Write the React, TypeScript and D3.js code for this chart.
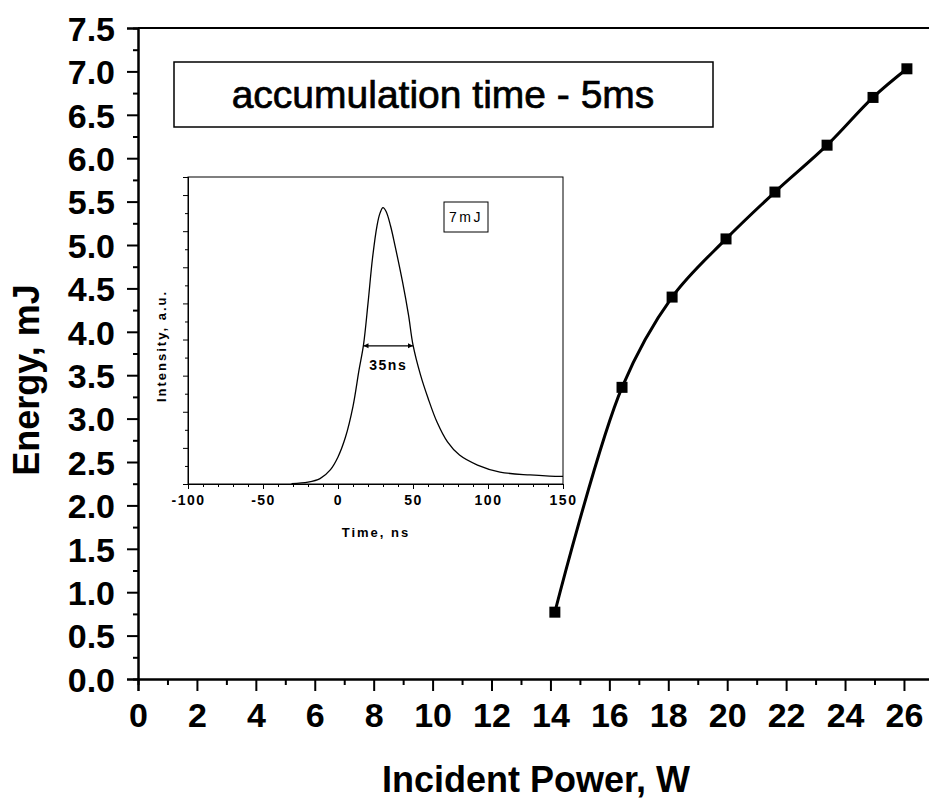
import React, { useEffect, useRef } from "react";
import * as d3 from "d3";

// main chart: energy vs incident power
const power = [14.15, 16.43, 18.13, 19.96, 21.62, 23.39, 24.95, 26.1];
const energy = [0.77, 3.36, 4.4, 5.07, 5.61, 6.15, 6.7, 7.03];
const xMajor = [0, 2, 4, 6, 8, 10, 12, 14, 16, 18, 20, 22, 24, 26];
const yMajor = [0, 0.5, 1, 1.5, 2, 2.5, 3, 3.5, 4, 4.5, 5, 5.5, 6, 6.5, 7, 7.5];

// inset: pulse shape
const pulseTime = [-31, -20, -12, -5, 0, 5, 10, 14, 17, 20, 23, 26, 28, 30, 32, 35, 38, 43, 47, 50, 55, 60, 66, 73, 81, 93, 108, 128, 141, 150];
const pulseIntensity = [0.02, 0.1, 0.3, 0.8, 1.5, 2.6, 4.3, 6.3, 7.7, 10.0, 12.5, 14.3, 15.0, 15.3, 15.1, 14.3, 13.2, 11.2, 9.36, 7.7, 6.04, 4.76, 3.43, 2.33, 1.6, 1.05, 0.66, 0.5, 0.44, 0.42];
const insetXMajor = [-100, -50, 0, 50, 100, 150];
const fwhm = [17, 50];
const fwhmLevel = 7.65;

const App = () => {
  const svgRef = useRef(null);

  useEffect(() => {
    const svg = d3.select(svgRef.current);
    svg.selectAll("*").remove();

    const font = "'Liberation Sans', Arial, sans-serif";
    const x = d3.scaleLinear().domain([0, 27]).range([138, 138 + 27 * 29.46]);
    const y = d3.scaleLinear().domain([0, 7.5]).range([679, 28]);

    // top border (right border falls outside the picture)
    svg.append("line")
      .attr("x1", x(0)).attr("x2", x(27)).attr("y1", y(7.5)).attr("y2", y(7.5))
      .attr("stroke", "#000").attr("stroke-width", 2);

    const minorX = d3.range(0, 27.01, 1).filter(v => v % 2 !== 0);
    const minorY = d3.range(0.25, 7.5, 0.5);

    const gx = svg.append("g").attr("transform", `translate(0,${y(0)})`);
    gx.call(d3.axisBottom(x).tickValues(xMajor).tickSize(12).tickPadding(12).tickFormat(d3.format("d")));
    gx.append("g").call(d3.axisBottom(x).tickValues(minorX).tickSize(6).tickFormat(() => ""));

    const gy = svg.append("g").attr("transform", `translate(${x(0)},0)`);
    gy.call(d3.axisLeft(y).tickValues(yMajor).tickSize(11).tickPadding(12).tickFormat(d3.format(".1f")));
    gy.append("g").call(d3.axisLeft(y).tickValues(minorY).tickSize(5).tickFormat(() => ""));

    svg.selectAll(".domain").attr("stroke-width", 2);
    svg.selectAll(".tick line").attr("stroke-width", 2);
    gx.selectAll("text").attr("font-family", font).attr("font-weight", "bold").attr("font-size", 34).attr("fill", "#000");
    gy.selectAll("text").attr("font-family", font).attr("font-weight", "bold").attr("font-size", 34).attr("fill", "#000").attr("dy", "0.36em");

    svg.append("text")
      .attr("x", 536).attr("y", 792)
      .attr("text-anchor", "middle")
      .attr("font-family", font).attr("font-weight", "bold").attr("font-size", 36)
      .text("Incident Power, W");

    svg.append("text")
      .attr("transform", "translate(39,380) rotate(-90)")
      .attr("text-anchor", "middle")
      .attr("font-family", font).attr("font-weight", "bold").attr("font-size", 36)
      .text("Energy, mJ");

    // annotation box
    svg.append("rect")
      .attr("x", 174).attr("y", 62).attr("width", 539).attr("height", 65)
      .attr("fill", "none").attr("stroke", "#000").attr("stroke-width", 1.5);
    svg.append("text")
      .attr("x", 443).attr("y", 108)
      .attr("text-anchor", "middle")
      .attr("font-family", font).attr("font-size", 39)
      .attr("stroke", "#000").attr("stroke-width", 0.7)
      .text("accumulation time - 5ms");

    // main curve + markers
    const pts = power.map((p, i) => [p, energy[i]]);
    const line = d3.line().x(d => x(d[0])).y(d => y(d[1])).curve(d3.curveCatmullRom.alpha(0.5));
    svg.append("path")
      .attr("d", line(pts))
      .attr("fill", "none").attr("stroke", "#000").attr("stroke-width", 3);
    svg.selectAll(".mk").data(pts).join("rect")
      .attr("class", "mk")
      .attr("x", d => x(d[0]) - 5.5).attr("y", d => y(d[1]) - 5.5)
      .attr("width", 11).attr("height", 11).attr("fill", "#000");

    // inset
    const ix = d3.scaleLinear().domain([-100, 150]).range([188, 563]);
    const iy = d3.scaleLinear().domain([0, 17]).range([484, 177]);
    const inset = svg.append("g");
    inset.append("rect")
      .attr("x", ix(-100)).attr("y", iy(17))
      .attr("width", ix(150) - ix(-100)).attr("height", iy(0) - iy(17))
      .attr("fill", "#fff").attr("stroke", "#000").attr("stroke-width", 1);

    const ixMinor = d3.range(-90, 150, 10).filter(v => v % 50 !== 0);
    const igx = inset.append("g").attr("transform", `translate(0,${iy(0)})`);
    igx.call(d3.axisBottom(ix).tickValues(insetXMajor).tickSize(5).tickPadding(6).tickFormat(d => String(d)));
    igx.append("g").call(d3.axisBottom(ix).tickValues(ixMinor).tickSize(3).tickFormat(() => ""));
    igx.selectAll("text")
      .attr("font-family", font).attr("font-weight", "bold").attr("font-size", 14)
      .attr("letter-spacing", 1.5).attr("fill", "#000");

    const igy = inset.append("g").attr("transform", `translate(${ix(-100)},0)`);
    igy.call(d3.axisLeft(iy).tickValues(d3.range(0, 17.01, 2)).tickSize(5).tickFormat(() => ""));
    igy.append("g").call(d3.axisLeft(iy).tickValues(d3.range(1, 17, 2)).tickSize(3).tickFormat(() => ""));
    inset.selectAll(".domain").attr("stroke-width", 1);
    inset.selectAll(".tick line").attr("stroke-width", 1);

    inset.append("path")
      .attr("d", d3.line().x((d, i) => ix(pulseTime[i])).y(d => iy(d)).curve(d3.curveCatmullRom)(pulseIntensity))
      .attr("fill", "none").attr("stroke", "#000").attr("stroke-width", 1.3);

    // FWHM marker
    const fy = iy(fwhmLevel);
    inset.append("line")
      .attr("x1", ix(fwhm[0])).attr("x2", ix(fwhm[1])).attr("y1", fy).attr("y2", fy)
      .attr("stroke", "#000").attr("stroke-width", 1.3);
    inset.append("path")
      .attr("d", `M${ix(fwhm[0])},${fy}l5,-2.5v5z M${ix(fwhm[1])},${fy}l-5,-2.5v5z`)
      .attr("fill", "#000");
    inset.append("text")
      .attr("x", (ix(fwhm[0]) + ix(fwhm[1])) / 2).attr("y", fy + 24)
      .attr("text-anchor", "middle")
      .attr("font-family", font).attr("font-weight", "bold").attr("font-size", 14).attr("letter-spacing", 1.5)
      .text("35ns");

    inset.append("rect")
      .attr("x", 444).attr("y", 202).attr("width", 44).attr("height", 30)
      .attr("fill", "none").attr("stroke", "#000").attr("stroke-width", 1);
    inset.append("text")
      .attr("x", 466).attr("y", 222)
      .attr("text-anchor", "middle")
      .attr("font-family", font).attr("font-size", 14).attr("letter-spacing", 2.5)
      .text("7mJ");

    inset.append("text")
      .attr("x", 376).attr("y", 537)
      .attr("text-anchor", "middle")
      .attr("font-family", font).attr("font-weight", "bold").attr("font-size", 13).attr("letter-spacing", 2)
      .text("Time, ns");
    inset.append("text")
      .attr("transform", "translate(166,346) rotate(-90)")
      .attr("text-anchor", "middle")
      .attr("font-family", font).attr("font-weight", "bold").attr("font-size", 13).attr("letter-spacing", 2)
      .text("Intensity, a.u.");
  }, []);

  return (
    <svg
      ref={svgRef}
      width={929}
      height={800}
      style={{ position: "absolute", left: 0, top: 0, background: "#fff" }}
    />
  );
};

export default App;
